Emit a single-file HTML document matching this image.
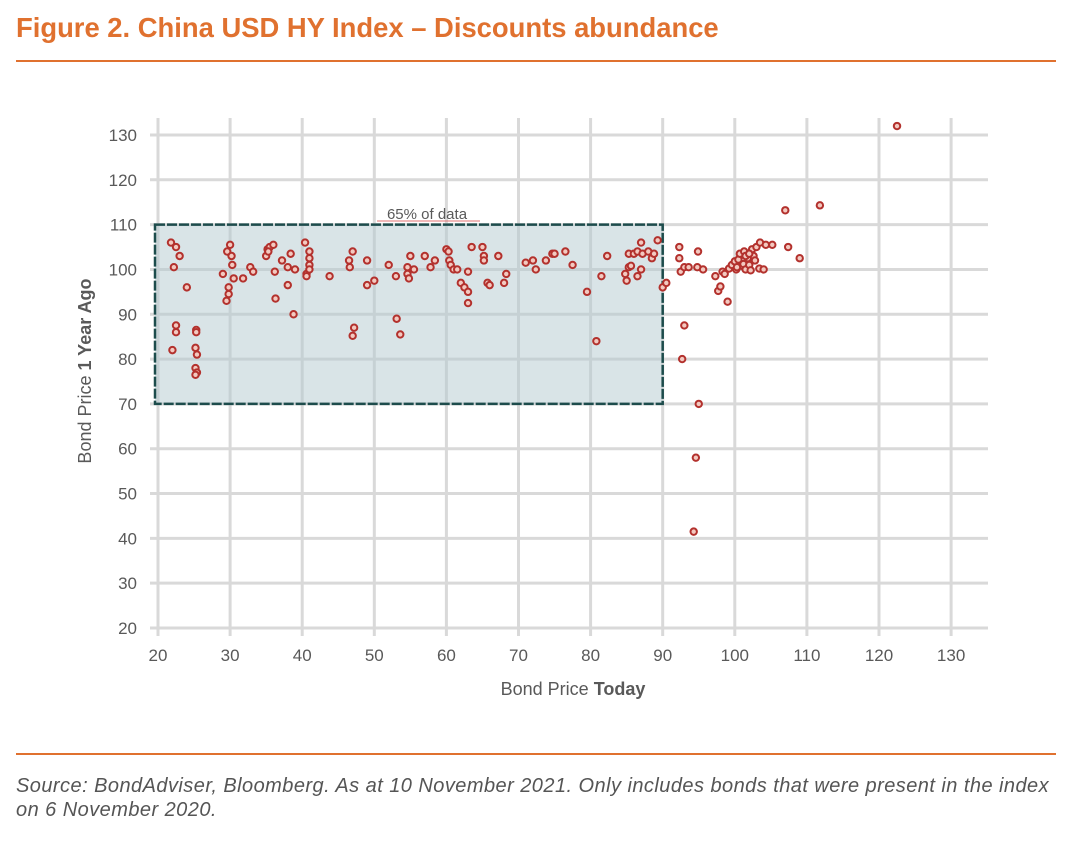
<!DOCTYPE html>
<html><head><meta charset="utf-8"><style>
body{margin:0;background:#fff;width:1087px;height:846px;overflow:hidden;font-family:"Liberation Sans",sans-serif}
.t{position:absolute;left:16px;top:12px;font-size:27.4px;font-weight:bold;color:#e0712f}
.hr{position:absolute;left:16px;width:1040px;height:2px;background:#e0712f}
.src{position:absolute;left:16px;top:774px;font-size:20px;letter-spacing:0.45px;font-style:italic;color:#555;line-height:24px;white-space:nowrap}
</style></head><body>
<div class="t">Figure 2. China USD HY Index – Discounts abundance</div>
<div class="hr" style="top:60px"></div>
<svg id="c" width="1087" height="846" style="position:absolute;left:0;top:0"></svg>
<div class="hr" style="top:753px"></div>
<div class="src">Source: BondAdviser, Bloomberg. As at 10 November 2021. Only includes bonds that were present in the index<br>on 6 November 2020.</div>
<script>
const xTicks=[20,30,40,50,60,70,80,90,100,110,120,130];
const yTicks=[20,30,40,50,60,70,80,90,100,110,120,130];
const priceToday=[21.8,22.5,23,22.2,24,22.5,22.5,22,25.3,25.3,25.2,25.4,25.2,25.4,25.2,29,29.5,29.8,29.8,29.6,30,30.2,30.3,30.5,31.8,32.8,33.2,35,35.2,35.5,36,35.3,36.2,36.3,37.2,38,38,38.4,38.8,39,40.4,40.6,40.6,41,41,41,41,43.8,46.5,46.6,47,47.2,47,49,49,50,52,53,53.1,53.6,54.6,54.6,55,54.8,55.5,57,57.8,58.4,60,60.3,60.4,60.6,61,61.5,62,62.5,63,63,63,63.5,65,65.2,65.2,65.7,66,67.2,68,68.3,71,72,72.4,73.8,74.7,75,76.5,77.5,79.5,80.8,81.5,82.3,84.8,85,85.3,85.3,85.6,86,86.5,86.5,87,87,87.2,88,88.5,88.8,89.3,90,90.5,92.3,92.3,92.5,92.7,93,93,93.6,94.3,94.6,94.8,94.9,95,95.6,97.3,97.7,98,98.3,98.6,99,99.2,99.6,100,100.2,100.5,100.7,101,101.2,101.3,101.5,101.8,102,102.2,102.4,102.6,102.8,103,103.4,103.5,104,104.3,105.2,107,107.4,109,111.8,122.5,100.3,101.5,102];
const priceYearAgo=[106,105,103,100.5,96,87.5,86,82,86.5,86,82.5,81,78,77,76.5,99,93,94.5,96,104,105.5,103,101,98,98,100.5,99.5,103,104.5,105,105.5,104,99.5,93.5,102,100.5,96.5,103.5,90,100,106,99,98.5,104,102.5,101,100,98.5,102,100.5,104,87,85.2,102,96.5,97.5,101,98.5,89,85.5,100.5,99,103,98,100,103,100.5,102,104.5,104,102,101,100,100,97,96,95,92.5,99.5,105,105,103,102,97,96.5,103,97,99,101.5,102,100,102,103.5,103.5,104,101,95,84,98.5,103,99,97.5,100.5,103.5,100.8,103.5,104,98.5,100,106,103.5,104,102.5,103.5,106.5,96,97,105,102.5,99.5,80,87.5,100.5,100.5,41.5,58,100.5,104,70,100,98.5,95.2,96.2,99.5,99,92.8,100.2,101,101.8,100,102.2,103.5,100.8,101.2,104,100,102.5,101,99.8,104.5,103,102,105,100.2,106,100,105.5,105.5,113.2,105,102.5,114.3,132,100.5,103,103.5];
const NS="http://www.w3.org/2000/svg",svg=document.getElementById('c');
const X=v=>158+(v-20)*7.21, Y=v=>628-(v-20)*4.482;
function mk(t,a,txt){const e=document.createElementNS(NS,t);for(const k in a)e.setAttribute(k,a[k]);if(txt!=null)e.textContent=txt;svg.appendChild(e);return e;}
xTicks.forEach(v=>{const e=mk('line',{x1:X(v),x2:X(v),y1:118,y2:636,stroke:'#d9d9d9','stroke-width':3});


const t=mk('text',{x:X(v),y:661,'text-anchor':'middle','font-size':17,fill:'#595959'},v);

});
yTicks.forEach(v=>{const e=mk('line',{x1:150,x2:988,y1:Y(v),y2:Y(v),stroke:'#d9d9d9','stroke-width':3});


const t=mk('text',{x:137,y:Y(v)+6,'text-anchor':'end','font-size':17,fill:'#595959'},v);

});
const r=mk('rect',{x:X(20)-3,y:Y(110),width:X(90)-X(20)+3,height:Y(70)-Y(110),fill:'rgba(180,202,208,0.5)',stroke:'#1d4c4c','stroke-width':2.5,'stroke-dasharray':'10 2'});


const bl=mk('text',{x:427,y:219,'text-anchor':'middle','font-size':15,fill:'#595959'},'65% of data');


const ul=mk('line',{x1:377,x2:480,y1:221,y2:221,stroke:'#e07070','stroke-width':1});


priceToday.forEach((v,i)=>{const c=mk('circle',{cx:X(v),cy:Y(priceYearAgo[i]),r:3.2,fill:'#f3c9c0',stroke:'#b3312d','stroke-width':2});

});
const xt=mk('text',{x:573,y:695,'text-anchor':'middle','font-size':18,fill:'#595959'});
xt.innerHTML='Bond Price <tspan font-weight="bold">Today</tspan>';


const yt=mk('text',{x:0,y:0,'text-anchor':'middle','font-size':18,fill:'#595959',transform:'translate(91,371) rotate(-90)'});
yt.innerHTML='Bond Price <tspan font-weight="bold">1 Year Ago</tspan>';


</script>
</body></html>
